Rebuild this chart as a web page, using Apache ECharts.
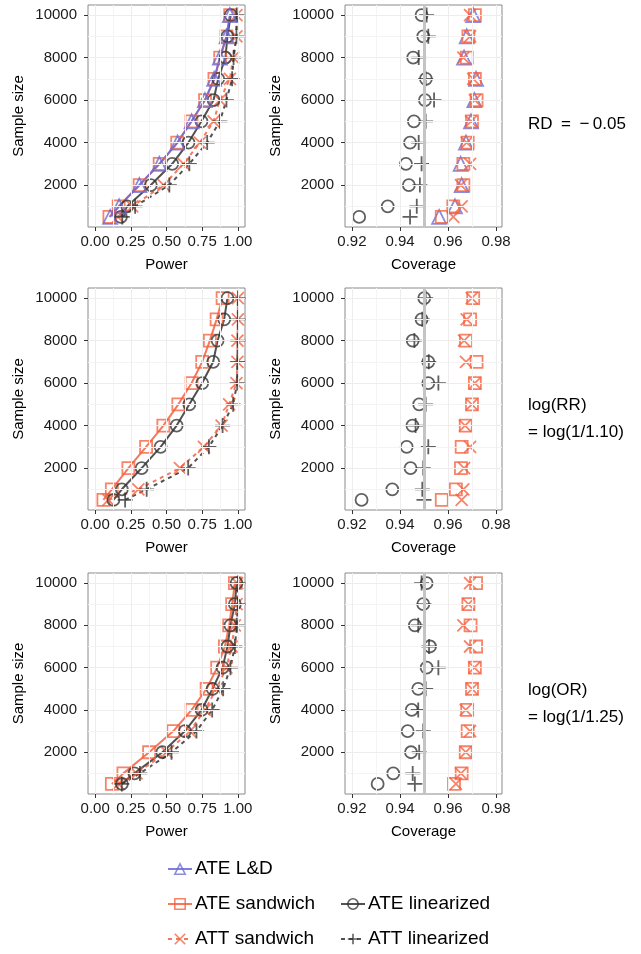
<!DOCTYPE html>
<html>
<head>
<meta charset="utf-8">
<script src="https://cdn.jsdelivr.net/npm/echarts@6.0.0/dist/echarts.min.js"></script>
<style>
html, body { margin: 0; padding: 0; background: #fff; }
#chart { width: 641px; height: 954px; }
</style>
</head>
<body>
<div id="chart"></div>
<script>
const sampleSizes = [500, 1000, 2000, 3000, 4000, 5000, 6000, 7000, 8000, 9000, 10000];

// power, RD = -0.05
const powerRdAteLD = [0.105, 0.168, 0.310, 0.450, 0.578, 0.676, 0.769, 0.834, 0.874, 0.921, 0.944];
const powerRdAteSand = [0.100, 0.165, 0.312, 0.452, 0.575, 0.675, 0.770, 0.836, 0.876, 0.920, 0.946];
const powerRdAteLin = [0.180, 0.225, 0.390, 0.540, 0.654, 0.745, 0.830, 0.862, 0.913, 0.927, 0.950];
const powerRdAttSand = [0.160, 0.260, 0.480, 0.619, 0.734, 0.830, 0.874, 0.944, 0.967, 0.990, 0.990];
const powerRdAttLin = [0.190, 0.280, 0.520, 0.660, 0.785, 0.874, 0.920, 0.960, 0.970, 0.990, 0.992];

// coverage, RD
const covRdAteLD = [0.9563, 0.9629, 0.9657, 0.9653, 0.9675, 0.9696, 0.9710, 0.9717, 0.9667, 0.9678, 0.9705];
const covRdAteSand = [0.9574, 0.9622, 0.9664, 0.9664, 0.9682, 0.9700, 0.9719, 0.9712, 0.9678, 0.9685, 0.9712];
const covRdAteLin = [0.9230, 0.9349, 0.9437, 0.9425, 0.9442, 0.9458, 0.9504, 0.9508, 0.9455, 0.9497, 0.9490];
const covRdAttSand = [0.9622, 0.9657, 0.9654, 0.9692, 0.9678, 0.9696, 0.9712, 0.9705, 0.9664, 0.9692, 0.9692];
const covRdAttLin = [0.9442, 0.9470, 0.9483, 0.9490, 0.9478, 0.9507, 0.9542, 0.9507, 0.9478, 0.9518, 0.9511];

// power, log(RR) = log(1/1.10)
const powerRrAteSand = [0.058, 0.117, 0.233, 0.357, 0.478, 0.583, 0.676, 0.750, 0.804, 0.851, 0.893];
const powerRrAteLin = [0.128, 0.187, 0.326, 0.459, 0.571, 0.660, 0.750, 0.827, 0.858, 0.904, 0.927];
const powerRrAttSand = [0.093, 0.303, 0.594, 0.762, 0.886, 0.939, 0.990, 0.997, 0.997, 1.000, 1.000];
const powerRrAttLin = [0.210, 0.361, 0.652, 0.797, 0.893, 0.967, 0.995, 0.997, 0.999, 1.000, 1.000];

// coverage, RR
const covRrAteSand = [0.9574, 0.9633, 0.9654, 0.9657, 0.9674, 0.9700, 0.9712, 0.9719, 0.9675, 0.9692, 0.9705];
const covRrAteLin = [0.9240, 0.9368, 0.9444, 0.9428, 0.9452, 0.9480, 0.9518, 0.9518, 0.9453, 0.9490, 0.9501];
const covRrAttSand = [0.9657, 0.9664, 0.9667, 0.9692, 0.9671, 0.9699, 0.9712, 0.9675, 0.9667, 0.9678, 0.9699];
const covRrAttLin = [0.9500, 0.9493, 0.9497, 0.9518, 0.9465, 0.9507, 0.9560, 0.9520, 0.9460, 0.9493, 0.9507];

// power, log(OR) = log(1/1.25)
const powerOrAteSand = [0.117, 0.198, 0.378, 0.548, 0.676, 0.781, 0.855, 0.909, 0.939, 0.960, 0.979];
const powerOrAteLin = [0.187, 0.275, 0.471, 0.629, 0.746, 0.823, 0.893, 0.927, 0.948, 0.979, 0.991];
const powerOrAttSand = [0.163, 0.290, 0.500, 0.664, 0.769, 0.850, 0.920, 0.956, 0.979, 0.991, 0.995];
const powerOrAttLin = [0.187, 0.314, 0.535, 0.710, 0.820, 0.897, 0.948, 0.979, 0.993, 1.000, 1.000];

// coverage, OR
const covOrAteSand = [0.9625, 0.9657, 0.9674, 0.9682, 0.9680, 0.9700, 0.9712, 0.9717, 0.9694, 0.9685, 0.9717];
const covOrAteLin = [0.9307, 0.9372, 0.9446, 0.9432, 0.9449, 0.9476, 0.9511, 0.9525, 0.9462, 0.9497, 0.9511];
const covOrAttSand = [0.9633, 0.9654, 0.9674, 0.9692, 0.9674, 0.9700, 0.9710, 0.9692, 0.9664, 0.9685, 0.9692];
const covOrAttLin = [0.9462, 0.9453, 0.9480, 0.9497, 0.9476, 0.9507, 0.9560, 0.9521, 0.9476, 0.9500, 0.9490];

const powerTicks = [0, 0.25, 0.5, 0.75, 1];
const powerMinor = [0.125, 0.375, 0.625, 0.875];
const coverageTicks = [0.92, 0.94, 0.96, 0.98];
const coverageMinor = [0.93, 0.95, 0.97];
const sizeTicks = [2000, 4000, 6000, 8000, 10000];
const sizeMinor = [1000, 3000, 5000, 7000, 9000];
const nominalCoverage = 0.95;

const FONT = '"Liberation Sans", Arial, Helvetica, sans-serif';
const SALMON = '#f5603f';
const DARK = '#333333';
const PURPLE = '#6a6ad6';
const X_PATH = 'path://M0,0L10,10M10,0L0,10';
const PLUS_PATH = 'path://M5,0L5,10M0,5L10,5';

const methodStyle = {
  'ATE L&D': { color: PURPLE, symbol: 'triangle', size: 14, dash: 'solid' },
  'ATE sandwich': { color: SALMON, symbol: 'rect', size: 12, dash: 'solid' },
  'ATT sandwich': { color: SALMON, symbol: X_PATH, size: 12, dash: [4, 4] },
  'ATE linearized': { color: DARK, symbol: 'circle', size: 12, dash: 'solid' },
  'ATT linearized': { color: DARK, symbol: PLUS_PATH, size: 15, dash: [4, 4] }
};

const grids = [
  { left: 88, top: 5, width: 157, height: 222 },
  { left: 345, top: 5, width: 157, height: 222 },
  { left: 88, top: 288, width: 157, height: 222 },
  { left: 345, top: 288, width: 157, height: 222 },
  { left: 88, top: 573, width: 157, height: 221 },
  { left: 345, top: 573, width: 157, height: 221 }
].map(g => Object.assign(g, { show: true, borderColor: '#8a8a8a', borderWidth: 1, backgroundColor: '#fff' }));

function pairs(xs) {
  return xs.map((x, i) => [x, sampleSizes[i]]);
}

function xAxisFor(i) {
  const power = i % 2 === 0;
  return {
    type: 'value',
    gridIndex: i,
    min: power ? -0.05 : 0.9171,
    max: power ? 1.05 : 0.9825,
    name: power ? 'Power' : 'Coverage',
    nameLocation: 'middle',
    nameGap: 30,
    nameTextStyle: { fontFamily: FONT, fontSize: 15, color: '#000' },
    axisLine: { show: false, onZero: false },
    axisTick: { show: true, length: 4, lineStyle: { color: '#333' }, customValues: power ? powerTicks : coverageTicks },
    axisLabel: {
      fontFamily: FONT, fontSize: 15, color: '#1a1a1a', margin: 7,
      customValues: power ? powerTicks : coverageTicks,
      formatter: v => v.toFixed(2)
    },
    splitLine: { show: false }
  };
}

function yAxisFor(i) {
  return {
    type: 'value',
    gridIndex: i,
    min: 25,
    max: 10475,
    name: 'Sample size',
    nameLocation: 'middle',
    nameGap: 62,
    nameTextStyle: { fontFamily: FONT, fontSize: 15, color: '#000' },
    axisLine: { show: false, onZero: false },
    axisTick: { show: true, length: 4, lineStyle: { color: '#333' }, customValues: sizeTicks },
    axisLabel: {
      fontFamily: FONT, fontSize: 15, color: '#1a1a1a', margin: 11,
      customValues: sizeTicks,
      formatter: v => String(v)
    },
    splitLine: { show: false }
  };
}

function gridLines(i) {
  const power = i % 2 === 0;
  const major = (power ? powerTicks : coverageTicks).map(v => ({ xAxis: v }))
    .concat(sizeTicks.map(v => ({ yAxis: v })));
  const minor = (power ? powerMinor : coverageMinor).map(v => ({ xAxis: v }))
    .concat(sizeMinor.map(v => ({ yAxis: v })));
  const out = [
    {
      type: 'line', xAxisIndex: i, yAxisIndex: i, data: [], z: 1, silent: true,
      markLine: { silent: true, symbol: ['none', 'none'], label: { show: false },
        lineStyle: { color: '#f6f4f2', width: 1, type: 'solid' }, data: minor }
    },
    {
      type: 'line', xAxisIndex: i, yAxisIndex: i, data: [], z: 1, silent: true,
      markLine: { silent: true, symbol: ['none', 'none'], label: { show: false },
        lineStyle: { color: '#efedeb', width: 1, type: 'solid' }, data: major }
    }
  ];
  if (!power) {
    out.push({
      type: 'line', xAxisIndex: i, yAxisIndex: i, data: [], z: 2, silent: true,
      markLine: { silent: true, symbol: ['none', 'none'], label: { show: false },
        lineStyle: { color: '#c4c4c4', width: 3, type: 'solid' }, data: [{ xAxis: nominalCoverage }] }
    });
  }
  return out;
}

function methodSeries(name, values, i) {
  const m = methodStyle[name];
  const asLine = i % 2 === 0;
  return {
    type: asLine ? 'line' : 'scatter',
    name: name,
    xAxisIndex: i,
    yAxisIndex: i,
    data: pairs(values),
    symbol: m.symbol,
    symbolSize: m.size,
    symbolKeepAspect: true,
    showSymbol: true,
    itemStyle: { color: 'rgba(0,0,0,0)', borderColor: m.color, borderWidth: 1.8, opacity: 0.78 },
    lineStyle: { color: m.color, width: 2, type: m.dash, opacity: 0.85 },
    emphasis: { disabled: true },
    z: 3
  };
}

const panels = [
  [['ATE sandwich', powerRdAteSand], ['ATT sandwich', powerRdAttSand], ['ATE linearized', powerRdAteLin], ['ATT linearized', powerRdAttLin], ['ATE L&D', powerRdAteLD]],
  [['ATE L&D', covRdAteLD], ['ATE sandwich', covRdAteSand], ['ATT sandwich', covRdAttSand], ['ATE linearized', covRdAteLin], ['ATT linearized', covRdAttLin]],
  [['ATE sandwich', powerRrAteSand], ['ATT sandwich', powerRrAttSand], ['ATE linearized', powerRrAteLin], ['ATT linearized', powerRrAttLin]],
  [['ATE sandwich', covRrAteSand], ['ATT sandwich', covRrAttSand], ['ATE linearized', covRrAteLin], ['ATT linearized', covRrAttLin]],
  [['ATE sandwich', powerOrAteSand], ['ATT sandwich', powerOrAttSand], ['ATE linearized', powerOrAteLin], ['ATT linearized', powerOrAttLin]],
  [['ATE sandwich', covOrAteSand], ['ATT sandwich', covOrAttSand], ['ATE linearized', covOrAteLin], ['ATT linearized', covOrAttLin]]
];

let series = [];
panels.forEach((list, i) => {
  series = series.concat(gridLines(i));
  list.forEach(([name, values]) => series.push(methodSeries(name, values, i)));
});

const legendBase = {
  orient: 'vertical',
  padding: 0,
  itemWidth: 24,
  itemHeight: 13,
  itemGap: 13,
  itemStyle: { borderWidth: 1.6 },
  textStyle: { fontFamily: FONT, fontSize: 19, color: '#000', lineHeight: 22, padding: [0, 0, 0, -2] },
  selectedMode: false
};

const sideFont = '17px ' + FONT;

const option = {
  animation: false,
  backgroundColor: '#fff',
  grid: grids,
  xAxis: grids.map((g, i) => xAxisFor(i)),
  yAxis: grids.map((g, i) => yAxisFor(i)),
  series: series,
  legend: [
    Object.assign({}, legendBase, { left: 167, top: 858, data: ['ATE L&D'] }),
    Object.assign({}, legendBase, { left: 167, top: 893, data: ['ATE sandwich', 'ATT sandwich'] }),
    Object.assign({}, legendBase, { left: 340, top: 893, data: ['ATE linearized', 'ATT linearized'] })
  ],
  graphic: [
    { type: 'text', left: 528, top: 116, style: { text: 'RD\u2002=\u2002\u2212\u20090.05', font: sideFont, fill: '#000' } },
    { type: 'text', left: 528, top: 397, style: { text: 'log(RR)', font: sideFont, fill: '#000' } },
    { type: 'text', left: 528, top: 424, style: { text: '= log(1/1.10)', font: sideFont, fill: '#000' } },
    { type: 'text', left: 528, top: 682, style: { text: 'log(OR)', font: sideFont, fill: '#000' } },
    { type: 'text', left: 528, top: 709, style: { text: '= log(1/1.25)', font: sideFont, fill: '#000' } }
  ]
};

const chart = echarts.init(document.getElementById('chart'), null, { renderer: 'canvas' });
chart.setOption(option);
</script>
</body>
</html>
